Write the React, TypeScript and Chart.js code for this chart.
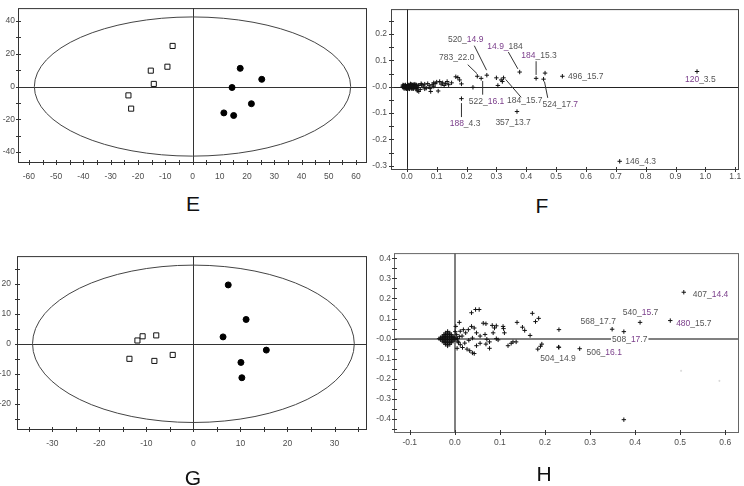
import React, { useEffect, useRef } from 'react';
import { Chart, registerables } from 'chart.js';
Chart.register(...registerables);

// ---------- Panel E (scores) ----------
const E_SQ_X = [-7.3, -15.3, -9.2, -14.2, -23.5, -22.5];
const E_SQ_Y = [24.8, 9.7, 12.1, 1.6, -5.4, -13.5];
const E_DOT_X = [17.5, 25.4, 14.5, 21.6, 11.5, 15.1];
const E_DOT_Y = [11.1, 4.4, -0.6, -10.5, -16.1, -17.7];
const E_ELLIPSE_R = [58, 42.5];

// ---------- Panel G (scores) ----------
const G_SQ_X = [-11.9, -10.8, -7.9, -13.6, -8.3, -4.4];
const G_SQ_Y = [1.1, 2.5, 2.8, -5.0, -5.7, -3.7];
const G_DOT_X = [7.4, 11.2, 6.3, 15.5, 10.1, 10.3];
const G_DOT_Y = [19.6, 8.1, 2.3, -2.1, -6.2, -11.3];
const G_ELLIPSE_R = [34.2, 26.2];

// ---------- Panel F (loadings) ----------
const F_X = [-0.014, -0.012, -0.010, -0.008, -0.006, -0.004, -0.002, 0.000, 0.002, 0.004, 0.006, 0.008, 0.010, 0.012, 0.014, 0.016, 0.018, 0.020, 0.022, 0.024, 0.026, 0.028, 0.030, 0.032, 0.035, 0.038,
  -0.010, -0.004, 0.003, 0.009, 0.015, 0.021, 0.027, 0.033, 0.000, 0.012, 0.024,
  -0.013, -0.009, -0.005, -0.001, 0.003, 0.007, 0.011, 0.015, 0.019, 0.023, 0.027, 0.031,
  -0.011, -0.007, -0.003, 0.001, 0.005, 0.009, 0.013, 0.017, 0.021, 0.025, 0.029,
  0.040, 0.045, 0.050, 0.055, 0.060, 0.065, 0.070, 0.075, 0.080, 0.085, 0.090, 0.095, 0.100, 0.105, 0.110, 0.115, 0.120, 0.125, 0.130, 0.135, 0.140, 0.150,
  0.040, 0.035, 0.060, 0.090, 0.048, 0.078,
  0.164, 0.171, 0.177, 0.183, 0.2215, 0.300, 0.305, 0.316, 0.320];
const F_Y = [0.002, -0.003, 0.004, -0.002, 0.001, 0.005, -0.004, 0.002, -0.001, 0.006, -0.005, 0.003, 0.000, 0.007, -0.003, 0.004, -0.006, 0.002, 0.008, -0.002, 0.005, -0.004, 0.003, 0.007, -0.003, 0.006,
  0.006, -0.006, 0.008, -0.008, 0.009, -0.007, 0.010, -0.006, -0.007, 0.011, 0.000,
  0.007, -0.007, 0.007, -0.007, 0.007, -0.007, 0.007, -0.007, 0.007, -0.007, 0.007, -0.007,
  0.000, 0.003, -0.003, 0.000, 0.003, -0.003, 0.000, 0.003, -0.003, 0.000, 0.003,
  0.005, -0.010, 0.008, 0.003, 0.010, -0.005, 0.012, 0.004, -0.018, 0.008, 0.002, 0.012, 0.018, -0.016, 0.020, 0.010, 0.015, 0.005, 0.012, 0.020, 0.008, 0.015,
  -0.018, -0.015, -0.008, 0.015, 0.012, -0.006,
  0.038, 0.035, 0.026, 0.011, -0.002, 0.034, 0.005, 0.026, 0.020];
const F_TAG_X = [0.972, 0.713, 0.521, 0.433, 0.463, 0.458, 0.378, 0.268, 0.236, 0.249, 0.324, 0.369, 0.183];
const F_TAG_Y = [0.058, -0.283, 0.040, 0.032, 0.052, 0.029, 0.056, 0.044, 0.040, 0.032, 0.034, -0.094, -0.045];

// ---------- Panel H (loadings) ----------
const H_CORE_X = [-0.016, -0.016,
  -0.021, -0.016, -0.011, -0.021, -0.016, -0.011,
  -0.024, -0.020, -0.016, -0.012, -0.008, -0.024, -0.020, -0.016, -0.012, -0.008,
  -0.028, -0.024, -0.020, -0.016, -0.012, -0.008, -0.004, -0.028, -0.024, -0.020, -0.016, -0.012, -0.008, -0.004,
  -0.032, -0.028, -0.024, -0.020, -0.016, -0.012, -0.008, -0.004, 0.000, -0.032, -0.028, -0.024, -0.020, -0.016, -0.012, -0.008, -0.004, 0.000,
  -0.035, 0.003];
const H_CORE_Y = [0.036, -0.036,
  0.028, 0.028, 0.028, -0.028, -0.028, -0.028,
  0.020, 0.020, 0.020, 0.020, 0.020, -0.020, -0.020, -0.020, -0.020, -0.020,
  0.012, 0.012, 0.012, 0.012, 0.012, 0.012, 0.012, -0.012, -0.012, -0.012, -0.012, -0.012, -0.012, -0.012,
  0.004, 0.004, 0.004, 0.004, 0.004, 0.004, 0.004, 0.004, 0.004, -0.004, -0.004, -0.004, -0.004, -0.004, -0.004, -0.004, -0.004, -0.004,
  0.000, 0.000];
const H_X = [0.037, 0.046, 0.054, 0.010, 0.063, 0.069, 0.083, 0.092, 0.107, 0.108, 0.110, 0.138, 0.150, 0.155, 0.167, 0.172, 0.179, 0.186, 0.193, 0.190, 0.184, 0.231, 0.231, 0.136, 0.129, 0.118, 0.125, 0.092, 0.096, 0.077, 0.077, 0.069, 0.056, 0.048, 0.033, 0.039, 0.043, 0.027, 0.017, 0.005, 0.016, 0.024, 0.030, 0.037, 0.019, 0.012, 0.002, 0.048, 0.056, 0.067, 0.071, 0.085, 0.088, 0.043, 0.007, 0.012, 0.022, 0.031, 0.039, 0.004, 0.008, 0.001, 0.006, 0.010];
const H_Y = [0.129, 0.145, 0.145, 0.081, 0.077, 0.074, 0.066, 0.064, 0.061, 0.050, 0.029, 0.081, 0.057, 0.041, 0.016, 0.126, 0.085, 0.101, -0.027, -0.038, -0.052, 0.045, -0.043, -0.016, -0.016, -0.035, -0.023, 0.000, -0.006, -0.016, -0.048, -0.027, -0.023, -0.035, -0.060, -0.071, -0.074, -0.052, -0.044, -0.048, 0.013, 0.029, 0.045, 0.061, 0.045, 0.037, 0.061, 0.029, 0.013, 0.021, -0.003, 0.029, 0.053, 0.053, -0.013, -0.030, -0.022, -0.008, 0.003, 0.020, -0.020, 0.035, 0.000, 0.010];
const H_TAG_X = [0.508, 0.478, 0.411, 0.349, 0.375, 0.277, 0.230, 0.375];
const H_TAG_Y = [0.231, 0.090, 0.081, 0.047, 0.035, -0.050, -0.042, -0.403];
const H_FAINT_X = [0.502, 0.587];
const H_FAINT_Y = [-0.16, -0.21];

const GRAY = '#555';
const PURPLE = '#7a3d8a';

type Part = [string, string];
type Lbl = { parts: Part[]; x: number; y: number; align: 'left' | 'center'; line?: number[]; bg?: boolean };

const F_LABELS: Lbl[] = [
  { parts: [['520_', GRAY], ['14.9', PURPLE]], x: 0.197, y: 0.180, align: 'center', line: [0.226, 0.156, 0.267, 0.063] },
  { parts: [['783_22.0', GRAY]], x: 0.167, y: 0.111, align: 'center', line: [0.204, 0.084, 0.235, 0.050] },
  { parts: [['14.9_', PURPLE], ['184', GRAY]], x: 0.329, y: 0.154, align: 'center', line: [0.340, 0.132, 0.372, 0.068] },
  { parts: [['184', PURPLE], ['_15.3', GRAY]], x: 0.443, y: 0.117, align: 'center', line: [0.433, 0.097, 0.433, 0.045] },
  { parts: [['496_15.7', GRAY]], x: 0.540, y: 0.037, align: 'left' },
  { parts: [['120', PURPLE], ['_3.5', GRAY]], x: 0.983, y: 0.027, align: 'center' },
  { parts: [['522_', GRAY], ['16.1', PURPLE]], x: 0.267, y: -0.058, align: 'center', line: [0.254, 0.022, 0.254, -0.030] },
  { parts: [['184_15.7', GRAY]], x: 0.395, y: -0.052, align: 'center', line: [0.331, 0.028, 0.383, -0.040] },
  { parts: [['524_17', GRAY], ['.7', PURPLE]], x: 0.514, y: -0.067, align: 'center', line: [0.461, 0.020, 0.472, -0.042] },
  { parts: [['188', PURPLE], ['_4.3', GRAY]], x: 0.195, y: -0.139, align: 'center', line: [0.183, -0.062, 0.183, -0.115] },
  { parts: [['357_13.7', GRAY]], x: 0.356, y: -0.136, align: 'center' },
  { parts: [['146_4.3', GRAY]], x: 0.732, y: -0.285, align: 'left' },
];

const H_LABELS: Lbl[] = [
  { parts: [['407_', GRAY], ['14.4', PURPLE]], x: 0.528, y: 0.218, align: 'left' },
  { parts: [['480', PURPLE], ['_15.7', GRAY]], x: 0.491, y: 0.074, align: 'left' },
  { parts: [['540_', GRAY], ['15', PURPLE], ['.7', GRAY]], x: 0.412, y: 0.129, align: 'center' },
  { parts: [['568_17.7', GRAY]], x: 0.318, y: 0.085, align: 'center' },
  { parts: [['508_', GRAY], ['17', PURPLE], ['.7', GRAY]], x: 0.388, y: -0.006, align: 'center', bg: true },
  { parts: [['506_', GRAY], ['16.1', PURPLE]], x: 0.292, y: -0.068, align: 'left' },
  { parts: [['504_14.9', GRAY]], x: 0.229, y: -0.097, align: 'center' },
];

const zip = (xs: number[], ys: number[]) => {
  const out: { x: number; y: number }[] = [];
  for (let i = 0; i < Math.min(xs.length, ys.length); i++) out.push({ x: xs[i], y: ys[i] });
  return out;
};

const isMul = (v: number, m: number) => Math.abs(v / m - Math.round(v / m)) < 1e-6;

type Spec = {
  xMin: number; xMax: number; xStep: number; xEvery: number;
  yMin: number; yMax: number; yStep: number; yEvery: number;
  fmtX: (v: number) => string; fmtY: (v: number) => string;
  datasets: any[];
  ellipse?: number[];
  labels?: Lbl[];
  leftW: number; bottomH: number; padTop: number; padRight: number;
  xPad: number; yPad: number;
  frameColor: string; zeroColor: string; zeroWidth: number;
};

const squares = (data: any[]) => ({ data, pointStyle: 'rect', pointRadius: 3.6, backgroundColor: '#fff', borderColor: '#111', borderWidth: 1 });
const dots = (data: any[]) => ({ data, pointStyle: 'circle', pointRadius: 3, backgroundColor: '#000', borderColor: '#000', borderWidth: 1 });
const crosses = (data: any[], color = '#111', r = 2.2) => ({ data, pointStyle: 'cross', pointRadius: r, backgroundColor: color, borderColor: color, borderWidth: 1 });

const intFmt = (v: number) => String(Math.round(v));
const decFmt = (v: number) => (Math.abs(v) < 1e-9 ? '0.0' : v.toFixed(1));
const decFmtNegZero = (v: number) => (Math.abs(v) < 1e-9 ? '-0.0' : v.toFixed(1));

function decor(s: Spec) {
  return {
    id: 'decor',
    beforeDatasetsDraw(chart: any) {
      const { ctx, chartArea: a, scales } = chart;
      const x = scales.x, y = scales.y;
      ctx.save();
      ctx.strokeStyle = s.zeroColor;
      ctx.lineWidth = s.zeroWidth;
      const off = s.zeroWidth % 2 === 1 ? 0.5 : 0;
      const x0 = Math.round(x.getPixelForValue(0)) + off;
      const y0 = Math.round(y.getPixelForValue(0)) + off;
      ctx.beginPath();
      ctx.moveTo(x0, a.top); ctx.lineTo(x0, a.bottom);
      ctx.moveTo(a.left, y0); ctx.lineTo(a.right, y0);
      ctx.stroke();
      if (s.ellipse) {
        const cx = x.getPixelForValue(0), cy = y.getPixelForValue(0);
        const rx = x.getPixelForValue(s.ellipse[0]) - cx;
        const ry = cy - y.getPixelForValue(s.ellipse[1]);
        ctx.strokeStyle = '#444';
        ctx.lineWidth = 1;
        ctx.beginPath();
        ctx.ellipse(cx, cy, rx, ry, 0, 0, Math.PI * 2);
        ctx.stroke();
      }
      ctx.restore();
    },
    afterDatasetsDraw(chart: any) {
      if (!s.labels) return;
      const { ctx, scales } = chart;
      const x = scales.x, y = scales.y;
      ctx.save();
      ctx.font = '8.5px "Liberation Sans", Arial, sans-serif';
      ctx.textBaseline = 'middle';
      ctx.textAlign = 'left';
      for (const l of s.labels) {
        if (l.line) {
          ctx.strokeStyle = '#333';
          ctx.lineWidth = 1;
          ctx.beginPath();
          ctx.moveTo(x.getPixelForValue(l.line[0]), y.getPixelForValue(l.line[1]));
          ctx.lineTo(x.getPixelForValue(l.line[2]), y.getPixelForValue(l.line[3]));
          ctx.stroke();
        }
        const widths = l.parts.map((p) => ctx.measureText(p[0]).width);
        const total = widths.reduce((acc, w) => acc + w, 0);
        let px = x.getPixelForValue(l.x);
        const py = y.getPixelForValue(l.y);
        if (l.align === 'center') px -= total / 2;
        if (l.bg) {
          ctx.fillStyle = '#fff';
          ctx.fillRect(px - 1, py - 5, total + 2, 10);
        }
        l.parts.forEach((p, i) => {
          ctx.fillStyle = p[1];
          ctx.fillText(p[0], px, py);
          px += widths[i];
        });
      }
      ctx.restore();
    },
    afterDraw(chart: any) {
      const { ctx, chartArea: a, scales } = chart;
      const x = scales.x, y = scales.y;
      ctx.save();
      ctx.strokeStyle = s.frameColor;
      ctx.lineWidth = 1;
      ctx.strokeRect(a.left + 0.5, a.top + 0.5, a.right - a.left - 1, a.bottom - a.top - 1);
      ctx.strokeStyle = '#333';
      ctx.beginPath();
      for (const t of x.ticks) {
        const px = Math.round(x.getPixelForValue(t.value)) + 0.5;
        ctx.moveTo(px, a.bottom - 3); ctx.lineTo(px, a.bottom + 2);
      }
      for (const t of y.ticks) {
        const py = Math.round(y.getPixelForValue(t.value)) + 0.5;
        ctx.moveTo(a.left - 2, py); ctx.lineTo(a.left + 3, py);
      }
      ctx.stroke();
      ctx.restore();
    },
  };
}

function buildConfig(s: Spec): any {
  const font = { family: '"Liberation Sans", Arial, sans-serif', size: 8.5 };
  return {
    type: 'scatter',
    data: { datasets: s.datasets },
    options: {
      responsive: false,
      animation: false,
      events: [],
      devicePixelRatio: 1,
      layout: { padding: { left: 0, top: s.padTop, right: s.padRight, bottom: 0 } },
      plugins: { legend: { display: false }, tooltip: { enabled: false } },
      scales: {
        x: {
          type: 'linear', position: 'bottom', min: s.xMin, max: s.xMax,
          grid: { display: false, drawTicks: false },
          border: { display: false },
          ticks: {
            stepSize: s.xStep, autoSkip: false, includeBounds: false, maxRotation: 0, minRotation: 0,
            padding: s.xPad, color: '#4d4d4d', font,
            callback: (v: number) => (isMul(v, s.xEvery) ? s.fmtX(v) : ''),
          },
          afterFit: (sc: any) => { sc.height = s.bottomH; },
        },
        y: {
          type: 'linear', position: 'left', min: s.yMin, max: s.yMax,
          grid: { display: false, drawTicks: false },
          border: { display: false },
          ticks: {
            stepSize: s.yStep, autoSkip: false, includeBounds: false,
            padding: s.yPad, color: '#4d4d4d', font,
            callback: (v: number) => (isMul(v, s.yEvery) ? s.fmtY(v) : ''),
          },
          afterFit: (sc: any) => { sc.width = s.leftW; },
        },
      },
    },
    plugins: [decor(s)],
  };
}

const SPEC_E: Spec = {
  xMin: -64, xMax: 64, xStep: 5, xEvery: 10,
  yMin: -46.7, yMax: 47.9, yStep: 10, yEvery: 20,
  fmtX: intFmt, fmtY: intFmt,
  datasets: [squares(zip(E_SQ_X, E_SQ_Y)), dots(zip(E_DOT_X, E_DOT_Y))],
  ellipse: E_ELLIPSE_R,
  leftW: 18, bottomH: 27, padTop: 7, padRight: 4, xPad: 9, yPad: 3,
  frameColor: '#333', zeroColor: '#333', zeroWidth: 1,
};

const SPEC_F: Spec = {
  xMin: -0.053, xMax: 1.1126, xStep: 0.1, xEvery: 0.1,
  yMin: -0.316, yMax: 0.295, yStep: 0.05, yEvery: 0.1,
  fmtX: decFmt, fmtY: decFmtNegZero,
  datasets: [crosses(zip(F_X, F_Y)), crosses(zip(F_TAG_X, F_TAG_Y))],
  labels: F_LABELS,
  leftW: 19, bottomH: 20, padTop: 3, padRight: 4, xPad: 2, yPad: 4,
  frameColor: '#444', zeroColor: '#222', zeroWidth: 1,
};

const SPEC_G: Spec = {
  xMin: -37.5, xMax: 36.9, xStep: 5, xEvery: 10,
  yMin: -28.7, yMax: 29.2, yStep: 5, yEvery: 10,
  fmtX: intFmt, fmtY: intFmt,
  datasets: [squares(zip(G_SQ_X, G_SQ_Y)), dots(zip(G_DOT_X, G_DOT_Y))],
  ellipse: G_ELLIPSE_R,
  leftW: 17, bottomH: 56, padTop: 8, padRight: 2, xPad: 9, yPad: 6,
  frameColor: '#333', zeroColor: '#333', zeroWidth: 1,
};

const SPEC_H: Spec = {
  xMin: -0.135, xMax: 0.6305, xStep: 0.1, xEvery: 0.1,
  yMin: -0.4693, yMax: 0.4257, yStep: 0.05, yEvery: 0.1,
  fmtX: decFmt, fmtY: decFmtNegZero,
  datasets: [
    crosses(zip(H_CORE_X, H_CORE_Y)),
    crosses(zip(H_X, H_Y)),
    crosses(zip(H_TAG_X, H_TAG_Y)),
    crosses(zip(H_FAINT_X, H_FAINT_Y), '#d8d8d8', 1),
  ],
  labels: H_LABELS,
  leftW: 22, bottomH: 53, padTop: 3, padRight: 4, xPad: 5, yPad: 3,
  frameColor: '#666', zeroColor: '#808080', zeroWidth: 2,
};

function Panel({ spec, left, top, width, height }: { spec: Spec; left: number; top: number; width: number; height: number }) {
  const ref = useRef<HTMLCanvasElement>(null);
  useEffect(() => {
    const chart = new Chart(ref.current as HTMLCanvasElement, buildConfig(spec));
    return () => chart.destroy();
  }, [spec]);
  return <canvas ref={ref} width={width} height={height} style={{ position: 'absolute', left, top, width, height }} />;
}

const letterStyle = (x: number, y: number): React.CSSProperties => ({
  position: 'absolute', left: x, top: y, transform: 'translate(-50%, -50%)',
  font: '21px "Liberation Sans", Arial, sans-serif', color: '#111', lineHeight: 1,
});

export default function App() {
  return (
    <div style={{ position: 'absolute', left: 0, top: 0, width: 744, height: 486, background: '#fff', overflow: 'hidden' }}>
      <Panel spec={SPEC_E} left={0} top={0} width={372} height={190} />
      <Panel spec={SPEC_F} left={372} top={0} width={372} height={190} />
      <Panel spec={SPEC_G} left={0} top={245} width={372} height={241} />
      <Panel spec={SPEC_H} left={372} top={245} width={372} height={241} />
      <div style={letterStyle(193, 203)}>E</div>
      <div style={letterStyle(542, 205)}>F</div>
      <div style={letterStyle(193, 477)}>G</div>
      <div style={letterStyle(544, 473)}>H</div>
    </div>
  );
}
